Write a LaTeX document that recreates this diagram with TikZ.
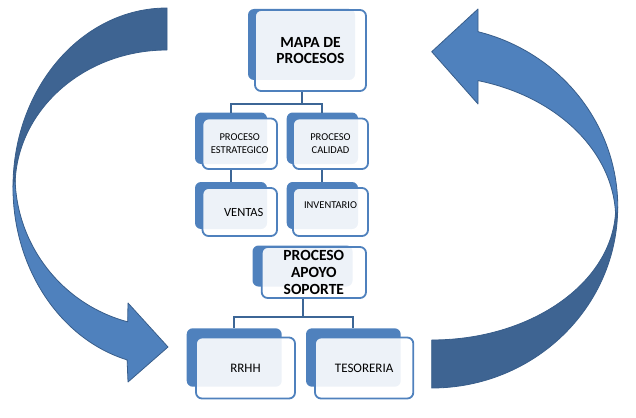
\documentclass[tikz,border=0pt]{standalone}
\usepackage{fontspec}
\setmainfont{Carlito}
\definecolor{bluA}{RGB}{79,129,189}
\definecolor{bluD}{RGB}{62,100,146}
\definecolor{edgeC}{RGB}{56,93,138}
\definecolor{connC}{RGB}{60,102,150}
\begin{document}
\begin{tikzpicture}[x=1pt,y=-1pt,
  backbox/.style={fill=bluA,draw=none,rounded corners=6pt,inner sep=0pt,outer sep=0pt,anchor=north west},
  frontbox/.style={draw=bluA,line width=1.8pt,fill=white,fill opacity=0.9,text opacity=1,draw opacity=1,
     rounded corners=6pt,inner sep=0pt,outer sep=0pt,anchor=north west,align=center,text=black},
  bigtxt/.style={font=\bfseries\fontsize{15.5}{16.7}\selectfont},
  smalltxt/.style={font=\fontsize{10.5}{12.6}\selectfont},
  midtxt/.style={font=\fontsize{13}{15}\selectfont},
  conn/.style={draw=connC,line width=2pt},
  arrowdark/.style={fill=bluD,draw=edgeC,line width=0.8pt,line join=round},
  arrowlight/.style={fill=bluA,draw=edgeC,line width=0.8pt,line join=round}]
\useasboundingbox (0,0) rectangle (636,417);

% left curved arrow
\path[arrowdark] (167,8) arc[start angle=270,end angle=180,x radius=154,y radius=179]
  -- (15,187) arc[start angle=180,end angle=270,x radius=152,y radius=137] -- cycle;
\path[arrowlight] (15,175) arc[start angle=180,end angle=105,x radius=152,y radius=152]
  -- (128,303) -- (168,347) -- (128,382) -- (127.1,359.9)
  arc[start angle=105,end angle=180,x radius=154,y radius=179] -- cycle;

% right curved arrow
\path[arrowdark] (431.7,388) arc[start angle=90,end angle=0,x radius=186,y radius=181]
  -- (615.7,207) arc[start angle=0,end angle=90,x radius=184,y radius=133] -- cycle;
\path[arrowlight] (615.7,219) arc[start angle=0,end angle=-75.4,x radius=184,y radius=143]
  -- (478,104) -- (431.7,51.7) -- (478,9) -- (478,31.7)
  arc[start angle=-75.6,end angle=0,x radius=186,y radius=181] -- cycle;

% back shapes
\node[backbox,minimum width=107,minimum height=71] (mapaB) at (248,9) {};
\node[backbox,minimum width=72,minimum height=51.5] (estB) at (195,112.5) {};
\node[backbox,minimum width=71.3,minimum height=51.5] (calB) at (286.7,112.5) {};
\node[backbox,minimum width=72,minimum height=47] (venB) at (195,182) {};
\node[backbox,minimum width=71.3,minimum height=47] (invB) at (286.7,182) {};
\node[backbox,minimum width=100,minimum height=41] (apoB) at (252.5,245.5) {};
\node[backbox,minimum width=95,minimum height=58.4] (rrB) at (186.7,328.3) {};
\node[backbox,minimum width=94.7,minimum height=58.4] (tesB) at (306,328.3) {};

% connectors
\coordinate (j1) at (301.5,104);
\coordinate (j2) at (302.5,316.7);
\draw[conn] (mapaB.south |- 0,91) -- (j1);
\draw[conn] (j1) -| (estB.north);
\draw[conn] (j1) -| (calB.north);
\draw[conn] (estB.south |- 0,169) -- (venB.north);
\draw[conn] (calB.south |- 0,169) -- (invB.north);
\draw[conn] (apoB.south |- 0,298) -- (j2);
\draw[conn] (j2) -| (rrB.north);
\draw[conn] (j2) -| (tesB.north);

% front shapes
\node[frontbox,bigtxt,minimum width=111,minimum height=81] (mapaF) at (255,10) {MAPA DE\\PROCESOS};
\node[frontbox,smalltxt,minimum width=74.5,minimum height=50.5] (estF) at (202.5,118.5) {PROCESO\\ESTRATEGICO};
\node[frontbox,smalltxt,minimum width=75,minimum height=50.5] (calF) at (293,118.5) {PROCESO\\CALIDAD};
\node[frontbox,font=\fontsize{12.5}{15}\selectfont,minimum width=74.5,minimum height=48] (venF) at (202.5,188) {\hspace*{8pt}VENTAS};
\node[frontbox,smalltxt,minimum width=75,minimum height=48,text height=7pt,text depth=15pt] (invF) at (293,188) {INVENTARIO};
\node[frontbox,bigtxt,minimum width=104.3,minimum height=51] (apoF) at (261.7,247) {PROCESO\\APOYO\\SOPORTE};
\node[frontbox,midtxt,minimum width=99,minimum height=61] (rrF) at (196,337.5) {RRHH};
\node[frontbox,midtxt,minimum width=98.3,minimum height=61] (tesF) at (315,337.5) {TESORERIA};
\end{tikzpicture}
\end{document}
